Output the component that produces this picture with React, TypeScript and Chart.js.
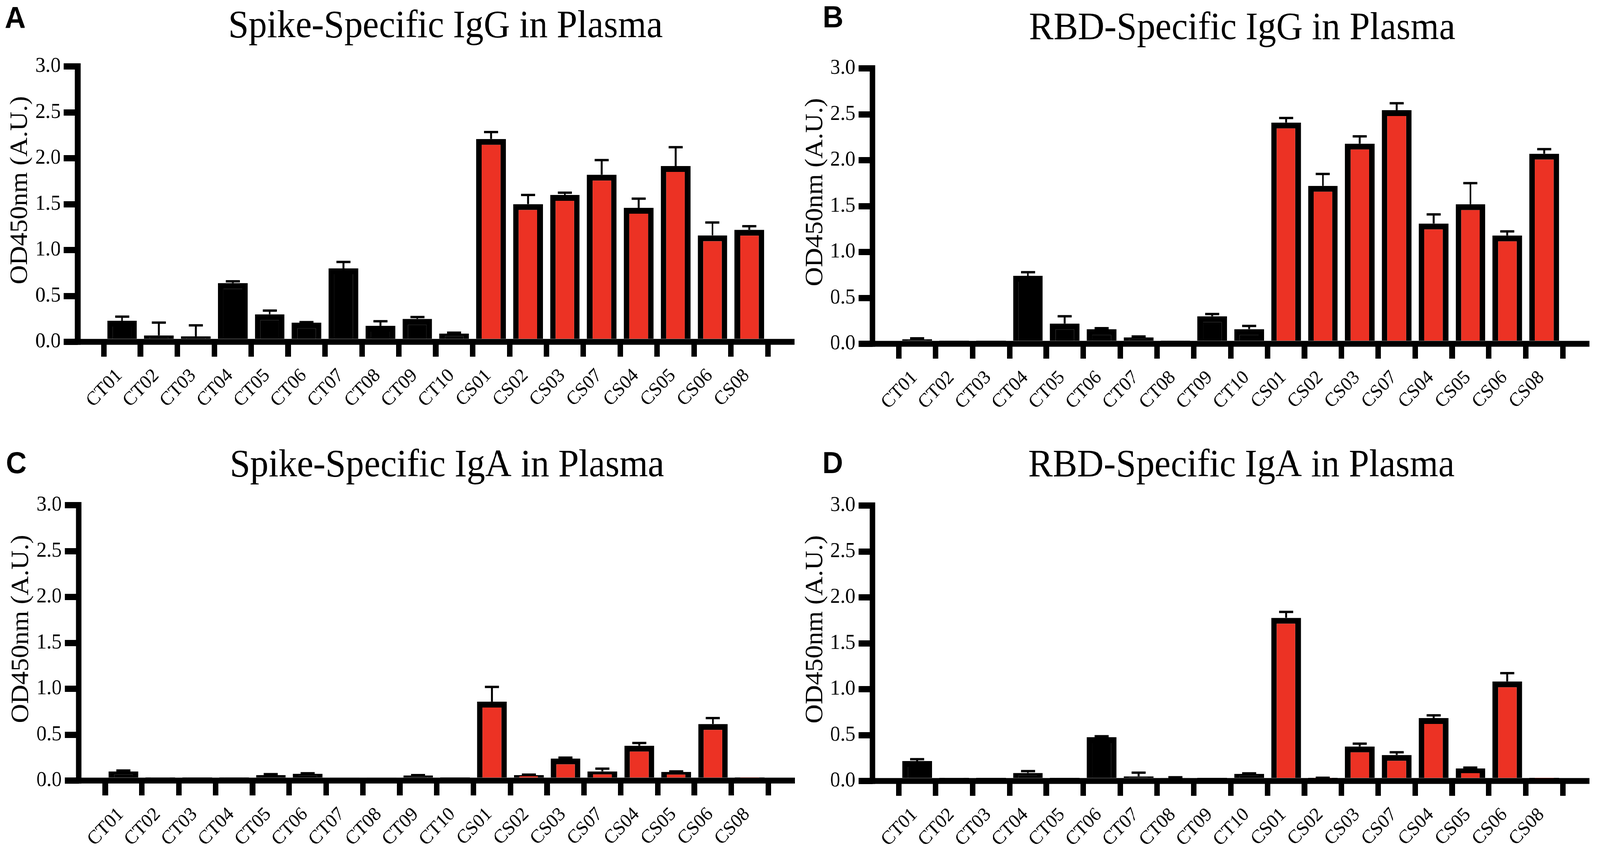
import React, { useEffect, useRef, useState } from "react";
import { Chart, registerables } from "chart.js";

Chart.register(...registerables);

// ---------- data ----------
const categories = [
  "CT01", "CT02", "CT03", "CT04", "CT05", "CT06", "CT07", "CT08", "CT09", "CT10",
  "CS01", "CS02", "CS03", "CS07", "CS04", "CS05", "CS06", "CS08",
];
const yTickValues = [0, 0.5, 1.0, 1.5, 2.0, 2.5, 3.0];
const yAxisTitle = "OD450nm (A.U.)";

const spikeIgG = [0.23, 0.07, 0.06, 0.64, 0.30, 0.21, 0.80, 0.175, 0.25, 0.09, 2.21, 1.50, 1.60, 1.82, 1.46, 1.915, 1.16, 1.22];
const spikeIgGErr = [0.045, 0.14, 0.12, 0.02, 0.04, 0.005, 0.07, 0.05, 0.02, 0.01, 0.075, 0.10, 0.025, 0.16, 0.10, 0.205, 0.14, 0.04];

const rbdIgG = [0.05, 0.02, 0.02, 0.74, 0.22, 0.16, 0.07, 0.02, 0.30, 0.16, 2.41, 1.72, 2.18, 2.545, 1.31, 1.52, 1.18, 2.07];
const rbdIgGErr = [0.01, 0, 0, 0.04, 0.08, 0.01, 0.01, 0, 0.025, 0.035, 0.05, 0.13, 0.08, 0.075, 0.10, 0.23, 0.045, 0.05];

const spikeIgA = [0.10, 0.03, 0.015, 0.015, 0.06, 0.075, 0.035, 0.035, 0.055, 0.015, 0.86, 0.06, 0.24, 0.10, 0.38, 0.095, 0.616, 0.015];
const spikeIgAErr = [0.01, 0, 0, 0, 0.01, 0.005, 0, 0, 0.005, 0, 0.16, 0.005, 0.01, 0.03, 0.03, 0.005, 0.065, 0];

const rbdIgA = [0.217, 0.03, 0.02, 0.087, 0.02, 0.477, 0.05, 0.035, 0.02, 0.078, 1.777, 0.03, 0.376, 0.283, 0.685, 0.136, 1.084, 0.015];
const rbdIgAErr = [0.02, 0, 0, 0.02, 0, 0.01, 0.04, 0.005, 0, 0.005, 0.065, 0.005, 0.03, 0.03, 0.03, 0.01, 0.09, 0];

// ---------- styling / layout ----------
const RED = "#EC3224";
const SERIF = "'Liberation Serif', 'Times New Roman', serif";
const SANS = "'Liberation Sans', Arial, sans-serif";
const FULL_W = 4324;
const FULL_H = 2168;
const PW = 2162;
const PH = 1084;

type Panel = {
  letter: string;
  title: string;
  values: number[];
  errors: number[];
  left: number;
  top: number;
  axisX: number;
  topY: number;
  zeroY: number;
  firstTick: number;
  lastTick: number;
  titleX: number;
  titleY: number;
  letterX: number;
  letterY: number;
  yTitleX: number;
};

const panels: Panel[] = [
  { letter: "A", title: "Spike-Specific IgG in Plasma", values: spikeIgG, errors: spikeIgGErr,
    left: 0, top: 0, axisX: 210, topY: 170, zeroY: 875, firstTick: 280, lastTick: 2075,
    titleX: 1204, titleY: 95, letterX: 13, letterY: 72, yTitleX: 55 },
  { letter: "B", title: "RBD-Specific IgG in Plasma", values: rbdIgG, errors: rbdIgGErr,
    left: PW, top: 0, axisX: 196, topY: 175, zeroY: 880, firstTick: 267, lastTick: 2061,
    titleX: 1195, titleY: 100, letterX: 61, letterY: 70, yTitleX: 42 },
  { letter: "C", title: "Spike-Specific IgA in Plasma", values: spikeIgA, errors: spikeIgAErr,
    left: 0, top: PH, axisX: 213, topY: 209, zeroY: 914, firstTick: 284, lastTick: 2076,
    titleX: 1208, titleY: 135, letterX: 16, letterY: 127, yTitleX: 58 },
  { letter: "D", title: "RBD-Specific IgA in Plasma", values: rbdIgA, errors: rbdIgAErr,
    left: PW, top: PH, axisX: 196, topY: 210, zeroY: 915, firstTick: 267, lastTick: 2061,
    titleX: 1193, titleY: 135, letterX: 60, letterY: 127, yTitleX: 42 },
];

function PanelChart({ p, pixelRatio }: { p: Panel; pixelRatio: number }) {
  const ref = useRef<HTMLCanvasElement | null>(null);

  useEffect(() => {
    if (!ref.current) return;
    const n = categories.length;
    const spacing = (p.lastTick - p.firstTick) / (n - 1);
    const gapL = p.firstTick - p.axisX;
    const axisEnd = p.lastTick + 72;
    const xMin = -gapL / spacing;
    const xMax = n - 1 + (axisEnd - p.lastTick) / spacing;

    const decor = {
      id: "decor",
      afterDatasetsDraw(chart: any) {
        const ctx = chart.ctx as CanvasRenderingContext2D;
        const yScale = chart.scales.y;
        const meta = chart.getDatasetMeta(0);
        ctx.save();
        ctx.strokeStyle = "#000";
        ctx.lineCap = "butt";
        // error bars (upper only)
        p.values.forEach((v, i) => {
          const e = p.errors[i];
          if (!e) return;
          const bar = meta.data[i];
          const x = bar.x;
          const y0 = yScale.getPixelForValue(v);
          const y1 = yScale.getPixelForValue(v + e);
          ctx.lineWidth = 5;
          ctx.beginPath();
          ctx.moveTo(x, y0);
          ctx.lineTo(x, y1);
          ctx.stroke();
          ctx.lineWidth = 6;
          ctx.beginPath();
          ctx.moveTo(x - 19, y1);
          ctx.lineTo(x + 19, y1);
          ctx.stroke();
        });
        // axis lines
        const ca = chart.chartArea;
        ctx.lineWidth = 15;
        ctx.beginPath();
        ctx.moveTo(ca.left, ca.top - 8);
        ctx.lineTo(ca.left, ca.bottom + 7.5);
        ctx.stroke();
        ctx.beginPath();
        ctx.moveTo(ca.left - 7.5, ca.bottom);
        ctx.lineTo(ca.right, ca.bottom);
        ctx.stroke();
        ctx.restore();
      },
      afterDraw(chart: any) {
        const ctx = chart.ctx as CanvasRenderingContext2D;
        const xScale = chart.scales.x;
        const ca = chart.chartArea;
        ctx.save();
        ctx.fillStyle = "#000";
        // rotated category labels
        ctx.font = `50px ${SERIF}`;
        ctx.textAlign = "right";
        ctx.textBaseline = "alphabetic";
        categories.forEach((c, i) => {
          const x = xScale.getPixelForValue(i);
          ctx.save();
          ctx.translate(x + 2, ca.bottom + 88);
          ctx.rotate(-Math.PI / 4);
          ctx.fillText(c, 0, 0);
          ctx.restore();
        });
        // title
        ctx.font = `99px ${SERIF}`;
        ctx.textAlign = "center";
        ctx.textBaseline = "alphabetic";
        ctx.fillText(p.title, p.titleX, p.titleY);
        // panel letter
        ctx.font = `bold 78px ${SANS}`;
        ctx.textAlign = "left";
        ctx.fillText(p.letter, p.letterX, p.letterY);
        // y-axis title
        ctx.font = `68px ${SERIF}`;
        ctx.textAlign = "center";
        ctx.textBaseline = "middle";
        ctx.translate(p.yTitleX, p.zeroY - 388);
        ctx.rotate(-Math.PI / 2);
        ctx.fillText(yAxisTitle, 0, 0);
        ctx.restore();
      },
    };

    const chart = new Chart(ref.current, {
      type: "bar",
      data: {
        datasets: [
          {
            data: p.values.map((v, i) => ({ x: i, y: v })),
            backgroundColor: categories.map((c) => (c.startsWith("CT") ? "#000000" : RED)),
            borderColor: "#000000",
            borderWidth: 15,
            borderSkipped: "start",
            categoryPercentage: 1,
            barPercentage: 85 / spacing,
          } as any,
        ],
      },
      options: {
        animation: false,
        responsive: false,
        maintainAspectRatio: false,
        devicePixelRatio: pixelRatio,
        events: [],
        layout: { padding: { left: 0, top: p.topY, right: PW - axisEnd, bottom: 0 } },
        plugins: {
          legend: { display: false },
          tooltip: { enabled: false },
          title: { display: false },
        },
        scales: {
          x: {
            type: "linear",
            min: xMin,
            max: xMax,
            afterBuildTicks: (s: any) => {
              s.ticks = categories.map((_, i) => ({ value: i }));
            },
            afterFit: (s: any) => {
              s.height = PH - p.zeroY;
            },
            ticks: {
              display: false,
              autoSkip: false,
              maxRotation: 0,
              callback: (v: any) => categories[Math.round(Number(v))] ?? "",
            },
            grid: {
              drawOnChartArea: false,
              drawTicks: true,
              tickLength: 38,
              tickWidth: 15,
              tickColor: "#000",
              lineWidth: 15,
              color: "#000",
            },
            border: { display: false },
          },
          y: {
            type: "linear",
            min: 0,
            max: 3,
            afterBuildTicks: (s: any) => {
              s.ticks = yTickValues.map((v) => ({ value: v }));
            },
            afterFit: (s: any) => {
              s.width = p.axisX;
            },
            ticks: {
              padding: 8,
              color: "#000",
              font: { family: SERIF, size: 55 },
              callback: (v: any) => Number(v).toFixed(1),
            },
            grid: {
              drawOnChartArea: false,
              drawTicks: true,
              tickLength: 38,
              tickWidth: 16,
              tickColor: "#000",
              lineWidth: 16,
              color: "#000",
            },
            border: { display: false },
          },
        },
      } as any,
      plugins: [decor],
    });
    return () => chart.destroy();
  }, [p, pixelRatio]);

  return (
    <canvas
      ref={ref}
      width={PW}
      height={PH}
      style={{ position: "absolute", left: p.left, top: p.top, width: PW, height: PH }}
    />
  );
}

function viewportScale() {
  const de = document.documentElement;
  const vw = de.clientWidth || window.innerWidth || FULL_W;
  const vh = de.clientHeight || window.innerHeight || FULL_H;
  return { sx: vw / FULL_W, sy: vh / FULL_H };
}

export default function App() {
  const [scale] = useState(viewportScale);

  useEffect(() => {
    document.body.style.margin = "0";
    document.body.style.overflow = "hidden";
    document.documentElement.style.overflow = "hidden";
  }, []);

  const pixelRatio = (window.devicePixelRatio || 1) * Math.max(scale.sx, scale.sy);

  return (
    <div
      style={{
        position: "absolute",
        left: 0,
        top: 0,
        width: FULL_W,
        height: FULL_H,
        background: "#fff",
        overflow: "hidden",
        transform: `scale(${scale.sx}, ${scale.sy})`,
        transformOrigin: "0 0",
      }}
    >
      {panels.map((p) => (
        <PanelChart key={p.letter} p={p} pixelRatio={pixelRatio} />
      ))}
    </div>
  );
}
